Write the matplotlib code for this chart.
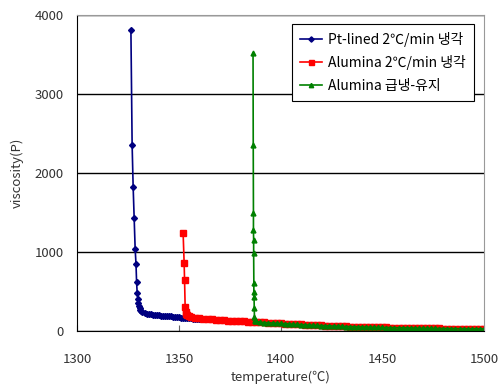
import matplotlib
matplotlib.use("Agg")
import matplotlib.pyplot as plt

plt.rcParams['font.family'] = ['Noto Sans CJK KR', 'DejaVu Sans']

# Pt-lined, 2°C/min cooling
pt_temp = [1326.3, 1326.9, 1327.4, 1327.9, 1328.4, 1328.8, 1329.1, 1329.4, 1329.7,
           1330.0, 1330.3, 1330.6, 1331.0, 1331.5, 1332.0, 1333.0, 1334.0, 1335.0,
           1336.0, 1337.0, 1338.0, 1339.0, 1340.0, 1341.0, 1342.0, 1343.0, 1344.0,
           1345.0, 1346.0, 1347.0, 1348.0, 1349.0, 1350.0, 1351.0, 1352.0, 1353.0,
           1354.0, 1355.0, 1356.0, 1357.0, 1358.0, 1359.0, 1360.0]
pt_visc = [3810, 2354, 1827, 1430, 1034, 852, 616, 477, 401,
           350, 315, 290, 268, 250, 238, 228, 222, 216,
           212, 209, 206, 203, 200, 197, 195, 192, 190,
           188, 185, 183, 180, 178, 175, 172, 170, 168,
           165, 163, 160, 158, 155, 153, 150]

# Alumina, 2°C/min cooling
al_temp = [1352.0, 1352.5, 1352.7, 1353.0, 1353.3, 1353.6, 1354.0, 1355.0, 1356.0,
           1358, 1360, 1362, 1364, 1366, 1368, 1370, 1372, 1374, 1376, 1378, 1380,
           1382, 1384, 1386, 1388, 1390, 1392, 1394, 1396, 1398, 1400, 1402, 1404,
           1406, 1408, 1410, 1412, 1414, 1416, 1418, 1420, 1422, 1424, 1426, 1428,
           1430, 1432, 1434, 1436, 1438, 1440, 1442, 1444, 1446, 1448, 1450, 1452,
           1454, 1456, 1458, 1460, 1462, 1464, 1466, 1468, 1470, 1472, 1474, 1476,
           1478, 1480, 1482, 1484, 1486, 1488, 1490, 1492, 1494, 1496, 1498, 1500]
al_visc = [1236, 857, 646, 300, 240, 215, 200, 190, 180,
           170, 162, 157, 152, 148, 144, 140, 137, 134, 131, 128, 126,
           123, 120, 118, 115, 112, 110, 107, 104, 101, 97, 95, 93,
           91, 88, 86, 83, 80, 77, 74, 72, 70, 68, 65, 63,
           62, 60, 58, 57, 55, 54, 52, 51, 50, 48, 47, 46,
           45, 44, 43, 42, 41, 40, 39, 38, 37, 36, 35, 35,
           34, 33, 32, 32, 31, 30, 30, 29, 29, 28, 28, 28]

# Alumina, quenched and held
gr_temp = [1386.4, 1386.5, 1386.6, 1386.6, 1386.7, 1386.7, 1386.8, 1386.8, 1386.9,
           1387.0, 1387.1, 1387.3, 1387.6, 1388, 1390, 1392, 1394, 1396, 1398,
           1400, 1402, 1404, 1406, 1408, 1410, 1412, 1414, 1416, 1418, 1420, 1422,
           1424, 1426, 1428, 1430, 1432, 1434, 1436, 1438, 1440, 1442, 1444, 1446,
           1448, 1450, 1452, 1454, 1456, 1458, 1460, 1462, 1464, 1466, 1468, 1470,
           1472, 1474, 1476, 1478, 1480, 1482, 1484, 1486, 1488, 1490, 1492, 1494,
           1496, 1498, 1500]
gr_visc = [3515, 2354, 1490, 1278, 1152, 983, 604, 498, 434,
           287, 181, 140, 128, 122, 112, 108, 105, 102, 100,
           97, 94, 91, 88, 85, 82, 79, 76, 74, 72, 70, 68,
           66, 64, 62, 60, 58, 57, 55, 54, 52, 51, 49, 48,
           47, 46, 45, 44, 43, 42, 41, 40, 39, 38, 37, 36,
           36, 35, 34, 33, 33, 32, 31, 31, 30, 30, 29, 29,
           28, 28, 28]

labels = ["Pt-lined 2℃/min 냉각", "Alumina 2℃/min 냉각", "Alumina 급냉-유지"]

fig = plt.figure(figsize=(5.03, 3.90), dpi=100)
ax = fig.add_axes([0.154, 0.151, 0.808, 0.811])

ax.plot(pt_temp, pt_visc, color='#000080', marker='D', markersize=3, lw=1.2, label=labels[0])
ax.plot(al_temp, al_visc, color='#ff0000', marker='s', markersize=4, lw=1.2, label=labels[1])
ax.plot(gr_temp, gr_visc, color='#008000', marker='^', markersize=3.5, lw=1.2, label=labels[2])

ax.set_xlim(1300, 1500)
ax.set_ylim(0, 4000)
ax.set_xticks([1300, 1350, 1400, 1450, 1500])
ax.set_yticks([0, 1000, 2000, 3000, 4000])
ax.yaxis.grid(True, color='black', lw=1)
ax.set_axisbelow(True)

for side in ['top', 'right']:
    ax.spines[side].set_color('#999999')
ax.spines['left'].set_color('black')
ax.spines['bottom'].set_color('black')

ax.tick_params(axis='x', direction='in', length=4, labelsize=9.5, pad=16,
               color='#666666', labelcolor='#333333')
ax.tick_params(axis='y', length=0, labelsize=9.5, pad=10, labelcolor='#333333')

ax.set_xlabel("temperature(℃)", fontsize=9.5, labelpad=3, color='#333333')
ax.set_ylabel("viscosity(P)", fontsize=9.5, labelpad=8, color='#333333')

leg = ax.legend(loc='upper right', bbox_to_anchor=(0.975, 0.972), fontsize=10,
                frameon=True, fancybox=False, edgecolor='black', framealpha=1,
                handlelength=1.6, handletextpad=0.4, borderpad=0.6, labelspacing=0.6,
                borderaxespad=0, markerscale=0.9)
leg.get_frame().set_linewidth(0.8)

fig.savefig("out.png", dpi=100)
